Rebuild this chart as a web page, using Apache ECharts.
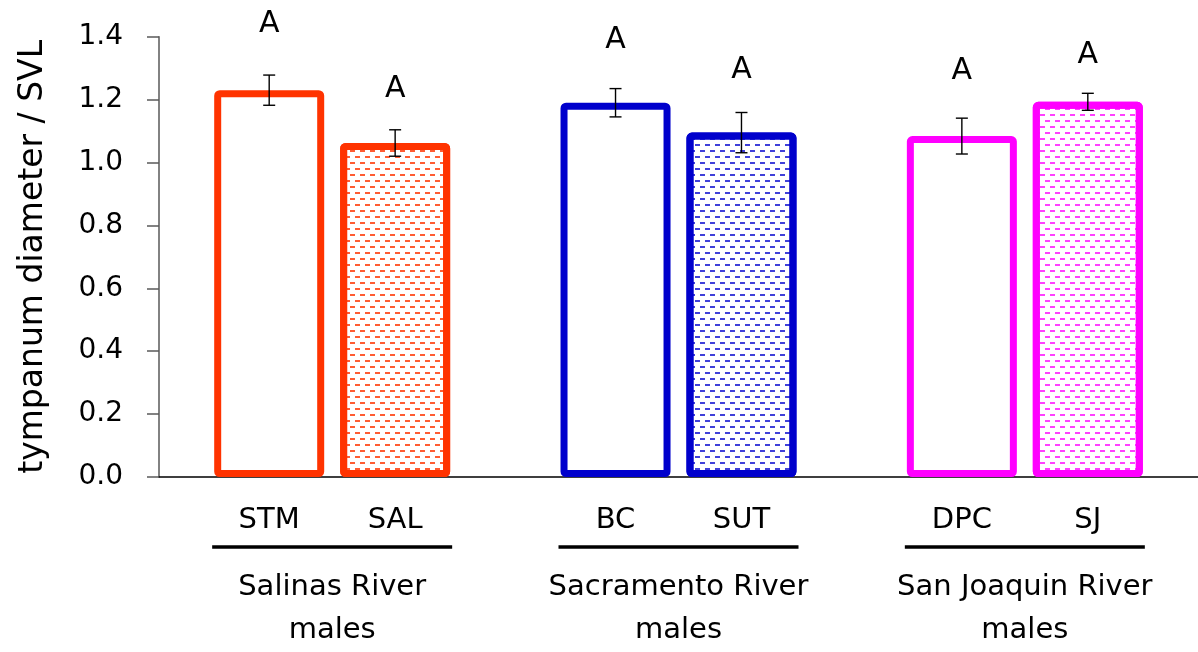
<!DOCTYPE html>
<html><head><meta charset="utf-8">
<script src="https://cdn.jsdelivr.net/npm/echarts@6/dist/echarts.min.js"></script>
<style>html,body{margin:0;padding:0;background:#fff}#c{width:1198px;height:652px}</style>
</head><body><div id="c"></div><script>
// ---- data ----
const groups = ['Salinas River\nmales', 'Sacramento River\nmales', 'San Joaquin River\nmales'];
const firstNames = ['STM', 'BC', 'DPC'];
const secondNames = ['SAL', 'SUT', 'SJ'];
const firstMeans = [1.23, 1.19, 1.084];
const secondMeans = [1.062, 1.095, 1.193];
const firstErr = [0.048, 0.045, 0.057];
const secondErr = [0.042, 0.064, 0.027];
const firstLetters = ['A', 'A', 'A'];
const secondLetters = ['A', 'A', 'A'];
const firstLetterLevel = [1.44, 1.39, 1.289];
const secondLetterLevel = [1.232, 1.292, 1.342];
const groupColors = ['#FF3300', '#0000CC', '#FF00FF'];
const decalColors = ['rgba(255,51,0,0.8)', 'rgba(0,0,204,0.75)', 'rgba(255,0,255,0.75)'];

const FONT = '"DejaVu Sans"';
const BAR_W = 110, BAR_GAP = '14.5%';

const chart = echarts.init(document.getElementById('c'), null, {renderer: 'canvas'});

function barSeries(means, names, patterned) {
  return {
    type: 'bar',
    barWidth: BAR_W,
    barGap: BAR_GAP,
    data: means.map((v, i) => ({
      value: v,
      itemStyle: Object.assign({
        color: '#ffffff',
        borderColor: groupColors[i],
        borderWidth: 7,
        borderRadius: 2
      }, patterned ? {
        decal: {
          symbol: 'rect',
          symbolSize: 1,
          color: decalColors[i],
          backgroundColor: 'rgba(0,0,0,0)',
          dashArrayX: [[5, 5], [0, 5, 5, 0]],
          dashArrayY: [1.5, 3.5],
          rotation: 0
        }
      } : {})
    })),
    label: {
      show: true,
      position: 'bottom',
      distance: 29,
      formatter: p => names[p.dataIndex],
      fontSize: 29,
      fontFamily: FONT,
      color: '#000'
    },
    emphasis: {disabled: true},
    silent: true,
    z: 2
  };
}

// error bar + letter items: [group, slot, mean, err, letterLevel]
const errData = [];
const errLetters = [];
firstMeans.forEach((m, i) => { errData.push([i, 0, m, firstErr[i], firstLetterLevel[i]]); errLetters.push(firstLetters[i]); });
secondMeans.forEach((m, i) => { errData.push([i, 1, m, secondErr[i], secondLetterLevel[i]]); errLetters.push(secondLetters[i]); });

chart.setOption({
  animation: false,
  backgroundColor: '#fff',
  grid: {left: 159, top: 36.7, bottom: 170.8, width: 1044, containLabel: false},
  xAxis: {
    type: 'category',
    data: groups,
    axisLine: {lineStyle: {color: '#000', width: 1.5}},
    axisTick: {show: false},
    axisLabel: {fontSize: 29, fontFamily: FONT, color: '#000', lineHeight: 43, margin: 89, interval: 0}
  },
  yAxis: {
    type: 'value',
    min: 0, max: 1.4, interval: 0.2,
    name: 'tympanum diameter / SVL',
    nameLocation: 'middle',
    nameGap: 109,
    nameTextStyle: {fontSize: 33, fontFamily: FONT, color: '#000'},
    axisLine: {show: true, lineStyle: {color: '#595959', width: 1.5}},
    axisTick: {show: true, inside: false, length: 12, lineStyle: {color: '#595959', width: 1.5}},
    axisLabel: {fontSize: 28, fontFamily: FONT, color: '#000', margin: 36, formatter: v => v.toFixed(1)},
    splitLine: {show: false}
  },
  series: [
    barSeries(firstMeans, firstNames, false),
    barSeries(secondMeans, secondNames, true),
    {
      type: 'custom',
      silent: true,
      z: 5,
      data: errData,
      renderItem: function (params, api) {
        const g = api.value(0), s = api.value(1), m = api.value(2), e = api.value(3), lv = api.value(4);
        let off;
        const lay = api.barLayout ? api.barLayout({barWidth: BAR_W, barGap: BAR_GAP, count: 2}) : null;
        if (lay && lay[s] && isFinite(lay[s].offsetCenter)) off = lay[s].offsetCenter;
        else off = (s - 0.5) * BAR_W * 1.145;
        const top = api.coord([g, m + e]);
        const bot = api.coord([g, m - e]);
        const lt = api.coord([g, lv]);
        const x = top[0] + off;
        const cap = 6;
        const st = {stroke: '#000', lineWidth: 1.4};
        return {
          type: 'group',
          children: [
            {type: 'line', shape: {x1: x, y1: top[1], x2: x, y2: bot[1]}, style: st},
            {type: 'line', shape: {x1: x - cap, y1: top[1], x2: x + cap, y2: top[1]}, style: st},
            {type: 'line', shape: {x1: x - cap, y1: bot[1], x2: x + cap, y2: bot[1]}, style: st},
            {type: 'text', x: x, y: lt[1], style: {text: errLetters[params.dataIndex], fontSize: 30, fontFamily: FONT, fill: '#000', align: 'center', verticalAlign: 'middle'}}
          ]
        };
      }
    },
    {
      type: 'custom',
      silent: true,
      z: 5,
      data: groups.map((_, i) => [i]),
      renderItem: function (params, api) {
        const c = api.coord([api.value(0), 0]);
        return {type: 'line', shape: {x1: c[0] - 120, y1: c[1] + 70, x2: c[0] + 120, y2: c[1] + 70}, style: {stroke: '#000', lineWidth: 3.5}};
      }
    }
  ]
});
</script></body></html>
